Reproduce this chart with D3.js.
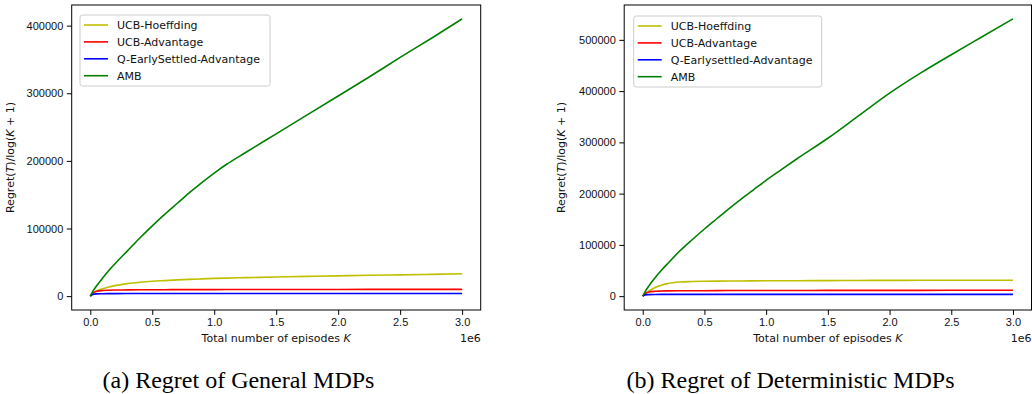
<!DOCTYPE html>
<html>
<head>
<meta charset="utf-8">
<script src="https://cdn.jsdelivr.net/npm/d3@7"></script>
<style>
  body { margin: 0; background: #fff; }
  svg { display: block; font-family: "DejaVu Sans", sans-serif; }
  .tick text { font-size: 11px; fill: #111; }
  .tick line, .domain { stroke: #000; }
</style>
</head>
<body>
<div id="chart"></div>
<script>
// episodes K (shared sample points, in millions)
var episodes = [0, 0.02, 0.05, 0.1, 0.15, 0.2, 0.3, 0.4, 0.5, 0.6, 0.7, 0.8, 0.9, 1.0,
  1.1, 1.25, 1.5, 1.75, 2.0, 2.25, 2.5, 2.75, 3.0];

// (a) general MDPs
var hoeffdingGeneral = [0, 4000, 7500, 11000, 13500, 15500, 18500, 20500, 22000, 23000, 24000, 24800,
  25500, 26200, 26700, 27300, 28300, 29200, 30000, 30800, 31500, 32200, 33000];
var advantageGeneral = [0, 4500, 7000, 8300, 8700, 9000, 9200, 9400, 9500, 9550, 9600, 9650,
  9700, 9700, 9750, 9800, 9850, 9900, 9900, 9950, 10000, 10000, 10000];
var earlyGeneral = [0, 2500, 3300, 3600, 3700, 3750, 3800, 3850, 3900, 3900, 3900, 3950,
  3950, 3950, 3950, 4000, 4000, 4000, 4000, 4000, 4000, 4000, 4000];
var ambGeneral = [0, 7000, 15000, 27000, 38000, 48000, 67000, 86000, 104000, 121000, 137000, 153000,
  168000, 182000, 195000, 212000, 240000, 268000, 296000, 324000, 353000, 381000, 410000];

// (b) deterministic MDPs
var hoeffdingDet = [0, 4500, 10000, 17000, 21500, 24500, 27500, 28500, 29000, 29300, 29500, 29700,
  29800, 30000, 30100, 30200, 30400, 30600, 30800, 30900, 31000, 31000, 31100];
var advantageDet = [0, 5500, 8000, 9500, 10000, 10300, 10500, 10600, 10700, 10800, 10900, 11000,
  11000, 11000, 11100, 11100, 11200, 11200, 11300, 11300, 11400, 11400, 11500];
var earlyDet = [0, 2500, 3000, 3300, 3400, 3400, 3500, 3500, 3500, 3500, 3500, 3500,
  3500, 3500, 3500, 3500, 3500, 3500, 3500, 3500, 3500, 3500, 3500];
var ambDet = [0, 9000, 20000, 36000, 50000, 63000, 88000, 110000, 131000, 151000, 171000, 190000,
  208000, 226000, 243000, 268000, 308000, 352000, 396000, 435000, 471000, 506000, 541000];

var xTicks = [0, 0.5, 1.0, 1.5, 2.0, 2.5, 3.0];
var yTicksGeneral = [0, 100000, 200000, 300000, 400000];
var yTicksDet = [0, 100000, 200000, 300000, 400000, 500000];

var colors = ["#bfbf00", "#ff0000", "#0000ff", "#008000"];

var svg = d3.select("#chart").append("svg")
  .attr("width", 1032)
  .attr("height", 394);

function drawPanel(p) {
  var x = d3.scaleLinear().domain([-0.15, 3.15]).range([p.left, p.right]);
  var y = d3.scaleLinear().domain(p.yDomain).range([310, 5]);
  var g = svg.append("g");

  var line = d3.line()
    .x(function(d, i) { return x(episodes[i]); })
    .y(function(d) { return y(d); })
    .curve(d3.curveMonotoneX);

  p.series.forEach(function(s, i) {
    g.append("path")
      .attr("d", line(s.values))
      .attr("fill", "none")
      .attr("stroke", colors[i])
      .attr("stroke-width", 1.6);
  });

  // axes
  g.append("g")
    .attr("transform", "translate(0,310)")
    .call(d3.axisBottom(x).tickValues(xTicks).tickFormat(d3.format(".1f"))
      .tickSizeInner(4.9).tickSizeOuter(0).tickPadding(3.5))
    .select(".domain").remove();

  g.append("g")
    .attr("transform", "translate(" + p.left + ",0)")
    .call(d3.axisLeft(y).tickValues(p.yTicks).tickFormat(d3.format("d"))
      .tickSizeInner(4.9).tickSizeOuter(0).tickPadding(3.5))
    .select(".domain").remove();

  g.append("rect")
    .attr("x", p.left).attr("y", 5)
    .attr("width", p.right - p.left).attr("height", 305)
    .attr("fill", "none").attr("stroke", "#000").attr("stroke-width", 1);

  g.append("text")
    .attr("x", p.right).attr("y", 341.5)
    .attr("text-anchor", "end").attr("font-size", 11).attr("fill", "#111")
    .text("1e6");

  // axis labels
  var xl = g.append("text")
    .attr("x", (p.left + p.right) / 2).attr("y", 342)
    .attr("text-anchor", "middle").attr("font-size", 11).attr("fill", "#111");
  xl.append("tspan").text("Total number of episodes ");
  xl.append("tspan").attr("font-style", "italic").text("K");

  var yl = g.append("text")
    .attr("transform", "translate(" + p.yLabelX + ",157.5) rotate(-90)")
    .attr("text-anchor", "middle").attr("font-size", 11).attr("fill", "#111");
  yl.append("tspan").text("Regret(");
  yl.append("tspan").attr("font-style", "italic").text("T");
  yl.append("tspan").text(")/log(");
  yl.append("tspan").attr("font-style", "italic").text("K");
  yl.append("tspan").text(" + 1)");

  // legend
  var lg = g.append("g");
  lg.append("rect")
    .attr("x", p.legend.x).attr("y", p.legend.y)
    .attr("width", p.legend.w).attr("height", 71)
    .attr("rx", 2.5)
    .attr("fill", "#fff").attr("fill-opacity", 0.8)
    .attr("stroke", "#ccc").attr("stroke-width", 1);
  p.series.forEach(function(s, i) {
    var cy = p.legend.y + 10 + i * 16.9;
    lg.append("line")
      .attr("x1", p.legend.x + 4).attr("x2", p.legend.x + 28)
      .attr("y1", cy).attr("y2", cy)
      .attr("stroke", colors[i]).attr("stroke-width", 1.6);
    lg.append("text")
      .attr("x", p.legend.x + 37).attr("y", cy + 4)
      .attr("font-size", 11).attr("fill", "#111")
      .text(s.name);
  });

  svg.append("text")
    .attr("x", p.captionX).attr("y", 388)
    .attr("text-anchor", "middle")
    .attr("font-family", "'Liberation Serif', serif")
    .attr("font-size", 24).attr("fill", "#000")
    .text(p.caption);
}

drawPanel({
  left: 71.7, right: 480.7,
  yDomain: [-20500, 430500],
  yTicks: yTicksGeneral,
  yLabelX: 13.5,
  legend: { x: 80, y: 15, w: 190 },
  caption: "(a) Regret of General MDPs",
  captionX: 238.5,
  series: [
    { name: "UCB-Hoeffding", values: hoeffdingGeneral },
    { name: "UCB-Advantage", values: advantageGeneral },
    { name: "Q-EarlySettled-Advantage", values: earlyGeneral },
    { name: "AMB", values: ambGeneral }
  ]
});

drawPanel({
  left: 624.2, right: 1031.5,
  yDomain: [-27000, 568000],
  yTicks: yTicksDet,
  yLabelX: 565,
  legend: { x: 633.7, y: 16, w: 188 },
  caption: "(b) Regret of Deterministic MDPs",
  captionX: 790.5,
  series: [
    { name: "UCB-Hoeffding", values: hoeffdingDet },
    { name: "UCB-Advantage", values: advantageDet },
    { name: "Q-Earlysettled-Advantage", values: earlyDet },
    { name: "AMB", values: ambDet }
  ]
});
</script>
</body>
</html>
